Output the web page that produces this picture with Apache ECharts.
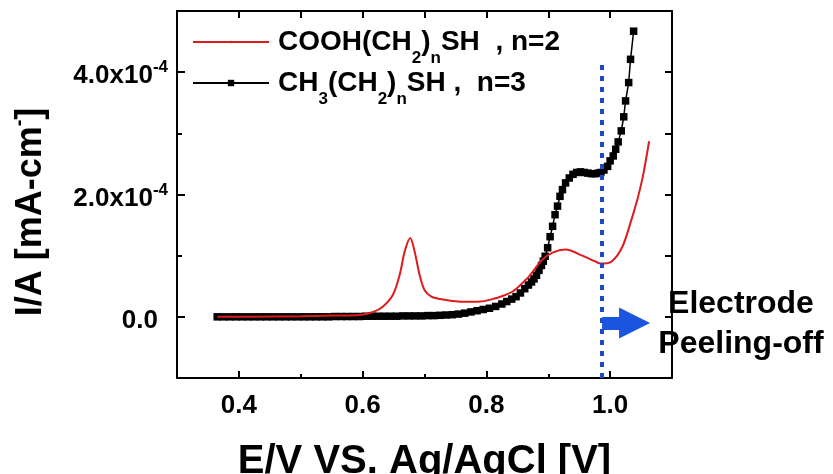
<!DOCTYPE html>
<html><head><meta charset="utf-8">
<script src="https://cdn.jsdelivr.net/npm/echarts@6/dist/echarts.min.js"></script>
<style>html,body{margin:0;padding:0;background:#fff}#c{width:833px;height:474px}</style>
</head><body><div id="c"></div>
<script>
// Potential E/V vs Ag/AgCl [V]; current in units of 1e-4 mA-cm^-2
const redPotential = [0.365,0.40,0.45,0.50,0.55,0.595,0.617,0.633,0.649,0.66,0.668,0.677,0.684,0.692,0.70,0.711,0.725,0.745,0.77,0.79,0.81,0.826,0.842,0.855,0.869,0.89,0.907,0.928,0.955,0.975,0.985,1.003,1.02,1.033,1.044,1.053,1.063];
const redCurrent   = [0,0,0.005,0.01,0.02,0.03,0.08,0.17,0.36,0.69,1.07,1.29,1.07,0.69,0.44,0.33,0.29,0.26,0.245,0.25,0.29,0.34,0.41,0.52,0.66,0.93,1.05,1.1,1.0,0.91,0.87,0.91,1.15,1.54,1.92,2.3,2.87];

const blackPotential = [
  0.365,0.375,0.385,0.395,0.405,0.415,0.425,0.435,0.445,0.455,
  0.465,0.475,0.485,0.495,0.505,0.515,0.525,0.535,0.545,0.555,
  0.565,0.575,0.585,0.595,0.605,0.615,0.625,0.635,0.645,0.655,
  0.665,0.675,0.685,0.695,0.705,0.715,0.725,0.735,0.745,0.755,
  0.765,0.775,0.785,0.795,0.805,0.815,0.825,0.833,0.841,0.848,
  0.855,0.862,0.868,0.873,0.877,0.881,0.885,0.889,0.892,0.895,
  0.899,0.903,0.907,0.911,0.915,0.919,0.923,0.928,0.934,0.940,
  0.946,0.952,0.958,0.964,0.970,0.976,0.981,0.985,0.990,0.996,
  1.000,1.005,1.009,1.013,1.018,1.022,1.025,1.030,1.033,1.038];
const blackCurrent = [
  0,0,0,0,0,0,0,0,0,0,
  0,0,0,0,0,0,0,0,0,0.005,
  0.005,0.005,0.005,0.005,0.01,0.01,0.01,0.01,0.01,0.01,
  0.015,0.015,0.015,0.015,0.02,0.02,0.025,0.03,0.035,0.045,
  0.06,0.08,0.10,0.12,0.14,0.17,0.21,0.25,0.29,0.33,
  0.39,0.46,0.52,0.57,0.62,0.68,0.76,0.84,0.91,0.99,
  1.13,1.31,1.48,1.67,1.81,1.97,2.08,2.19,2.27,2.33,
  2.36,2.37,2.36,2.35,2.34,2.34,2.35,2.36,2.40,2.46,
  2.55,2.63,2.74,2.86,3.04,3.27,3.53,3.83,4.21,4.67];

const seriesNames = ['COOH(CH2)nSH , n=2', 'CH3(CH2)nSH , n=3'];
const legendLabels = [
  '{m|COOH(CH}{s|2}{m|)}{s|n}{m|SH  , n=2}',
  '{m|CH}{s|3}{m|(CH}{s|2}{m|)}{s|n}{m|SH ,  n=3}'
];
const xLabelValues = [0.4, 0.6, 0.8, 1.0];
const xMinorValues = [0.5, 0.7, 0.9];
const yLabelValues = [0, 2, 4];
const yMinorValues = [1, 3];
const peelPotential = 0.987;
const peelLineTop = 4.13;
const arrowFrom = [0.987, -0.1];
const arrowTo = [1.0395, -0.1];
const annotationText = 'Electrode\nPeeling-off';
const xTitle = 'E/V VS. Ag/AgCl [V]';
const yTitle = '{t|I/A [mA-cm}{u|-}{t|]}';

const FONT = '"Liberation Sans", Arial, sans-serif';
const zip = (a, b) => a.map((v, i) => [v, b[i]]);

const legendRich = {
  m: {fontSize: 28, fontWeight: 'bold', fontFamily: FONT, color: '#000', lineHeight: 28, verticalAlign: 'top'},
  s: {fontSize: 17, fontWeight: 'bold', fontFamily: FONT, color: '#000', lineHeight: 17, verticalAlign: 'top', padding: [22, 0, 0, 0]}
};
function makeLegend(idx, top, itemHeight) {
  return {
    show: true, data: [seriesNames[idx]], orient: 'vertical', left: 192, top: top,
    padding: 0, itemWidth: 76, itemHeight: itemHeight, selectedMode: false,
    formatter: () => legendLabels[idx],
    textStyle: {padding: [0, 0, 0, 4], rich: legendRich}
  };
}

const chart = echarts.init(document.getElementById('c'));
const baseX = {type: 'value', min: 0.3, max: 1.1, interval: 0.1, gridIndex: 0, splitLine: {show: false}};
const baseY = {type: 'value', min: -1, max: 5, interval: 1, gridIndex: 0, splitLine: {show: false}};
const frame = {show: true, onZero: false, lineStyle: {color: '#000', width: 2}};
const noLine = {show: false, onZero: false};

chart.setOption({
  animation: false,
  backgroundColor: '#fff',
  grid: {left: 177, right: 161, top: 11, bottom: 96, containLabel: false, outerBoundsMode: 'none'},
  legend: [makeLegend(0, 28, 3), makeLegend(1, 69, 8)],
  xAxis: [
    Object.assign({}, baseX, {
      position: 'bottom', axisLine: frame,
      axisTick: {show: true, inside: true, length: 7, customValues: xLabelValues, lineStyle: {color: '#000', width: 2}},
      axisLabel: {show: true, customValues: xLabelValues, margin: 15, color: '#000', fontSize: 26, fontWeight: 'bold', fontFamily: FONT,
        formatter: v => v.toFixed(1)},
      name: xTitle, nameLocation: 'middle', nameGap: 64,
      nameTextStyle: {fontSize: 40, fontWeight: 'bold', fontFamily: FONT, color: '#000'}
    }),
    Object.assign({}, baseX, {
      position: 'bottom', axisLine: noLine,
      axisTick: {show: true, inside: true, length: 4, customValues: xMinorValues, lineStyle: {color: '#000', width: 2}},
      axisLabel: {show: false}
    }),
    Object.assign({}, baseX, {
      position: 'top', axisLine: frame,
      axisTick: {show: true, inside: true, length: 7, lineStyle: {color: '#000', width: 2}},
      axisLabel: {show: false}
    })
  ],
  yAxis: [
    Object.assign({}, baseY, {
      position: 'left', axisLine: frame,
      axisTick: {show: true, inside: true, length: 8, customValues: yLabelValues, lineStyle: {color: '#000', width: 2}},
      axisLabel: {show: true, customValues: yLabelValues, margin: 9,
        formatter: v => v === 0 ? '{z|0.0}' : '{n|' + v.toFixed(1) + 'x10}{p|-4}',
        rich: {
          n: {fontSize: 26, fontWeight: 'bold', fontFamily: FONT, color: '#000', lineHeight: 26, verticalAlign: 'top', padding: [4, 0, 0, 0]},
          z: {fontSize: 26, fontWeight: 'bold', fontFamily: FONT, color: '#000', lineHeight: 26, verticalAlign: 'top', padding: [4, 10, 0, 0]},
          p: {fontSize: 17, fontWeight: 'bold', fontFamily: FONT, color: '#000', lineHeight: 17, verticalAlign: 'top'}
        }},
      name: yTitle, nameLocation: 'middle', nameGap: 132, nameRotate: 90,
      nameTextStyle: {padding: [0, 35, 0, 0], rich: {
        t: {fontSize: 36, fontWeight: 'bold', fontFamily: FONT, color: '#000', lineHeight: 36, verticalAlign: 'top', padding: [4, 0, 0, 0]},
        u: {fontSize: 20, fontWeight: 'bold', fontFamily: FONT, color: '#000', lineHeight: 20, verticalAlign: 'top'}
      }}
    }),
    Object.assign({}, baseY, {
      position: 'left', axisLine: noLine,
      axisTick: {show: true, inside: true, length: 5, customValues: yMinorValues, lineStyle: {color: '#000', width: 2}},
      axisLabel: {show: false}
    }),
    Object.assign({}, baseY, {
      position: 'right', axisLine: frame,
      axisTick: {show: true, inside: true, length: 7, lineStyle: {color: '#000', width: 2}},
      axisLabel: {show: false}
    })
  ],
  series: [
    {
      name: seriesNames[1], type: 'line', xAxisIndex: 0, yAxisIndex: 0,
      data: zip(blackPotential, blackCurrent),
      symbol: 'rect', symbolSize: 7.5, showSymbol: true, showAllSymbol: true,
      itemStyle: {color: '#000'}, lineStyle: {color: '#000', width: 1.5},
      emphasis: {disabled: true}, z: 2
    },
    {
      name: seriesNames[0], type: 'line', xAxisIndex: 0, yAxisIndex: 0,
      data: zip(redPotential, redCurrent),
      smooth: 0.3, symbol: 'circle', symbolSize: 2, showSymbol: false,
      itemStyle: {color: '#dd1c1c'}, lineStyle: {color: '#dd1c1c', width: 2},
      emphasis: {disabled: true}, z: 3
    },
    {
      name: 'annotation', type: 'line', xAxisIndex: 0, yAxisIndex: 0, data: [], z: 5,
      markLine: {
        silent: true, animation: false, label: {show: false}, emphasis: {disabled: true},
        symbol: ['none', 'none'],
        data: [
          [{coord: [peelPotential, -1], symbol: 'none', lineStyle: {color: '#1f48c8', width: 4, type: [5, 6]}},
           {coord: [peelPotential, peelLineTop], symbol: 'none'}],
          [{coord: arrowFrom, symbol: 'none', lineStyle: {color: '#1a55dd', width: 13, type: 'solid'}},
           {coord: arrowTo, symbol: 'triangle', symbolSize: [31, 31]}]
        ]
      }
    }
  ],
  graphic: [{
    type: 'text', x: 741, y: 324, z: 10,
    style: {text: annotationText, fill: '#000', font: 'bold 32px ' + FONT, align: 'center', verticalAlign: 'middle', lineHeight: 40}
  }]
});
</script>
</body></html>
